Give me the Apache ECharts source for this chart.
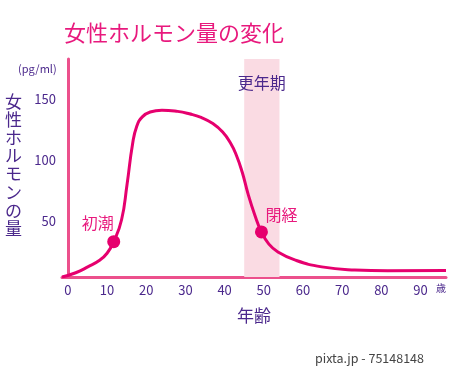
<!DOCTYPE html>
<html>
<head>
<meta charset="utf-8">
<script src="https://cdn.jsdelivr.net/npm/echarts@6/dist/echarts.min.js"></script>
<style>
html,body{margin:0;padding:0;background:#fff;}
#chart{width:450px;height:369px;}
</style>
</head>
<body>
<div id="chart"></div>
<script>
// ---- data ----
var ages =     [-1.5, 2, 5.2, 8, 10, 11.7, 13.7, 15.1, 16.5, 17.6, 19, 21, 24, 28, 31, 34, 37, 39.5, 41.5, 43, 44.5, 46, 47.7, 49.4, 51.3, 53.6, 57.9, 64.8, 73.2, 81.6, 96.5];
var hormone =  [4, 7.5, 12.5, 17.5, 23.5, 33, 51, 80, 113, 128, 135.5, 139.5, 141, 140, 138, 135, 130, 123, 114, 104, 90, 72, 55, 41, 31, 24.6, 18, 12.3, 9.8, 9.2, 9.3];
var eventNames = ['初潮', '閉経'];
var eventAges = [11.7, 49.4];
var eventValues = [33, 41];
var menopausePeriod = [45, 54];
var periodName = '更年期';
var xTicks = [0, 10, 20, 30, 40, 50, 60, 70, 80, 90];
var yTicks = [50, 100, 150];

var PINK = '#e6006e';
var AXIS = '#ec508c';
var PURPLE = '#4b288c';
var FONT = '"Noto Sans CJK JP", "Noto Sans", sans-serif';

var lineData = ages.map(function (a, i) { return [a, hormone[i]]; });
var labelOffsets = [[-16, -19], [20, -17]];
var eventData = eventNames.map(function (n, i) {
  return {
    name: n,
    value: [eventAges[i], eventValues[i]],
    label: { offset: labelOffsets[i] }
  };
});

var chart = echarts.init(document.getElementById('chart'), null, { renderer: 'canvas' });
chart.setOption({
  animation: false,
  backgroundColor: '#fff',
  textStyle: { fontFamily: FONT },
  title: {
    text: '女性ホルモン量の変化',
    left: 59, top: 17,
    textStyle: { color: '#e8197d', fontSize: 22, fontWeight: 'normal', fontFamily: FONT }
  },
  grid: { left: 62, right: 4, top: 59, bottom: 92, containLabel: false },
  xAxis: {
    type: 'value', min: -1.5, max: 96.5,
    name: '年齢', nameLocation: 'middle', nameGap: 30,
    nameTextStyle: { color: PURPLE, fontSize: 17, fontFamily: FONT },
    axisLine: { show: true, lineStyle: { color: AXIS, width: 3 } },
    axisTick: { show: false },
    splitLine: { show: false },
    axisLabel: { customValues: xTicks, color: PURPLE, fontSize: 13, margin: 7, fontFamily: FONT }
  },
  yAxis: {
    type: 'value', min: 4, max: 183,
    axisLine: { show: true, lineStyle: { color: AXIS, width: 3 } },
    axisTick: { show: false },
    splitLine: { show: false },
    axisLabel: { customValues: yTicks, color: PURPLE, fontSize: 13, margin: 6, fontFamily: FONT }
  },
  graphic: [
    { type: 'text', left: 18, top: 63, style: { text: '(pg/ml)', fill: PURPLE, font: '11px ' + FONT } },
    { type: 'text', left: 5, top: 92, style: { text: '女\n性\nホ\nル\nモ\nン\nの\n量', fill: PURPLE, font: '17px ' + FONT, lineHeight: 18.2 } },
    { type: 'text', left: 436, top: 283, style: { text: '歳', fill: PURPLE, font: '10px ' + FONT } },
    { type: 'text', left: 315, top: 352, style: { text: 'pixta.jp - 75148148', fill: '#444', font: '12.5px ' + FONT } }
  ],
  series: [
    {
      type: 'line',
      data: lineData,
      smooth: 0.5,
      showSymbol: false,
      lineStyle: { color: PINK, width: 3 },
      z: 3,
      markArea: {
        silent: true,
        itemStyle: { color: '#fadbe3' },
        label: { show: true, position: 'insideTop', distance: 16, color: PURPLE, fontSize: 16, fontFamily: FONT },
        data: [[{ name: periodName, xAxis: menopausePeriod[0] }, { xAxis: menopausePeriod[1] }]]
      }
    },
    {
      type: 'scatter',
      data: eventData,
      symbolSize: 13,
      itemStyle: { color: PINK, opacity: 1 },
      z: 4,
      label: {
        show: true, formatter: '{b}', position: 'inside',
        color: '#e8197d', fontSize: 16, fontFamily: FONT, opacity: 1
      }
    }
  ]
});
</script>
</body>
</html>
